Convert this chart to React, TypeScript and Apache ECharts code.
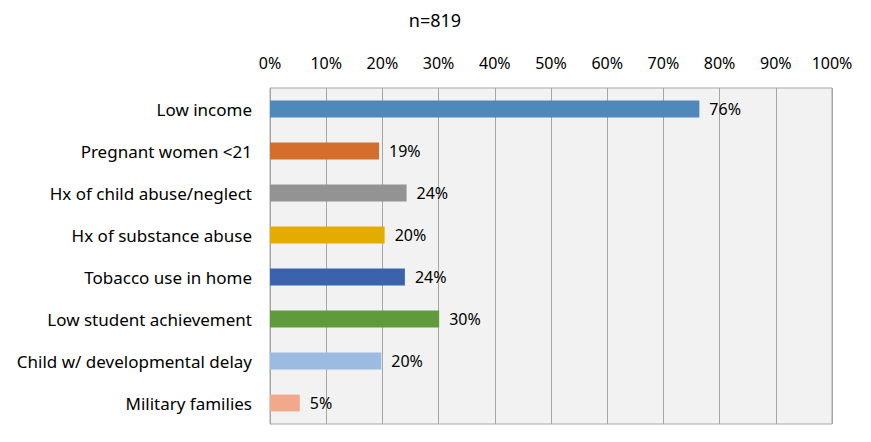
import React, { useEffect, useRef } from "react";
import * as echarts from "echarts";

const categories = [
  "Low income",
  "Pregnant women <21",
  "Hx of child abuse/neglect",
  "Hx of substance abuse",
  "Tobacco use in home",
  "Low student achievement",
  "Child w/ developmental delay",
  "Military families",
];
const values = [76.4, 19.4, 24.3, 20.4, 24.0, 30.1, 19.8, 5.3];
const colors = ["#4F88BB", "#D46E2C", "#939393", "#E5AC00", "#3A62AD", "#5F9A3B", "#9BBBE0", "#F2A98B"];
const subtitle = "n=819";

export default function App() {
  const ref = useRef<HTMLDivElement>(null);
  useEffect(() => {
    const chart = echarts.init(ref.current!, null, { renderer: "svg" });
    const font = "'Noto Sans', sans-serif";
    chart.setOption({
      animation: false,
      title: {
        text: subtitle,
        left: 430,
        textAlign: "center",
        top: 6,
        textStyle: { fontFamily: font, fontSize: 18, fontWeight: "normal", color: "#000" },
      },
      grid: {
        left: 270,
        right: 39,
        top: 88,
        bottom: 18,
        show: true,
        backgroundColor: "#F2F2F2",
        borderColor: "#A6A6A6",
        borderWidth: 1,
      },
      xAxis: {
        type: "value",
        position: "top",
        min: 0,
        max: 100,
        interval: 10,
        axisLine: { show: false },
        axisTick: { show: false },
        axisLabel: { formatter: "{value}%", color: "#000", fontFamily: font, fontSize: 16, margin: 17 },
        splitLine: { lineStyle: { color: "#A6A6A6", width: 1 } },
      },
      yAxis: {
        type: "category",
        data: categories,
        inverse: true,
        axisLine: { lineStyle: { color: "#A6A6A6" } },
        axisTick: { show: false },
        axisLabel: { color: "#000", fontFamily: font, fontSize: 17, margin: 18 },
      },
      series: [
        {
          type: "bar",
          data: values.map((v, i) => ({ value: v, itemStyle: { color: colors[i] } })),
          barCategoryGap: "60%",
          label: {
            show: true,
            position: "right",
            distance: 10,
            color: "#000",
            fontFamily: font,
            fontSize: 16,
            formatter: (p: any) => Math.round(p.value) + "%",
          },
        },
      ],
    });
    return () => chart.dispose();
  }, []);
  return <div ref={ref} style={{ width: 871, height: 442, position: "absolute", left: 0, top: 0 }} />;
}
